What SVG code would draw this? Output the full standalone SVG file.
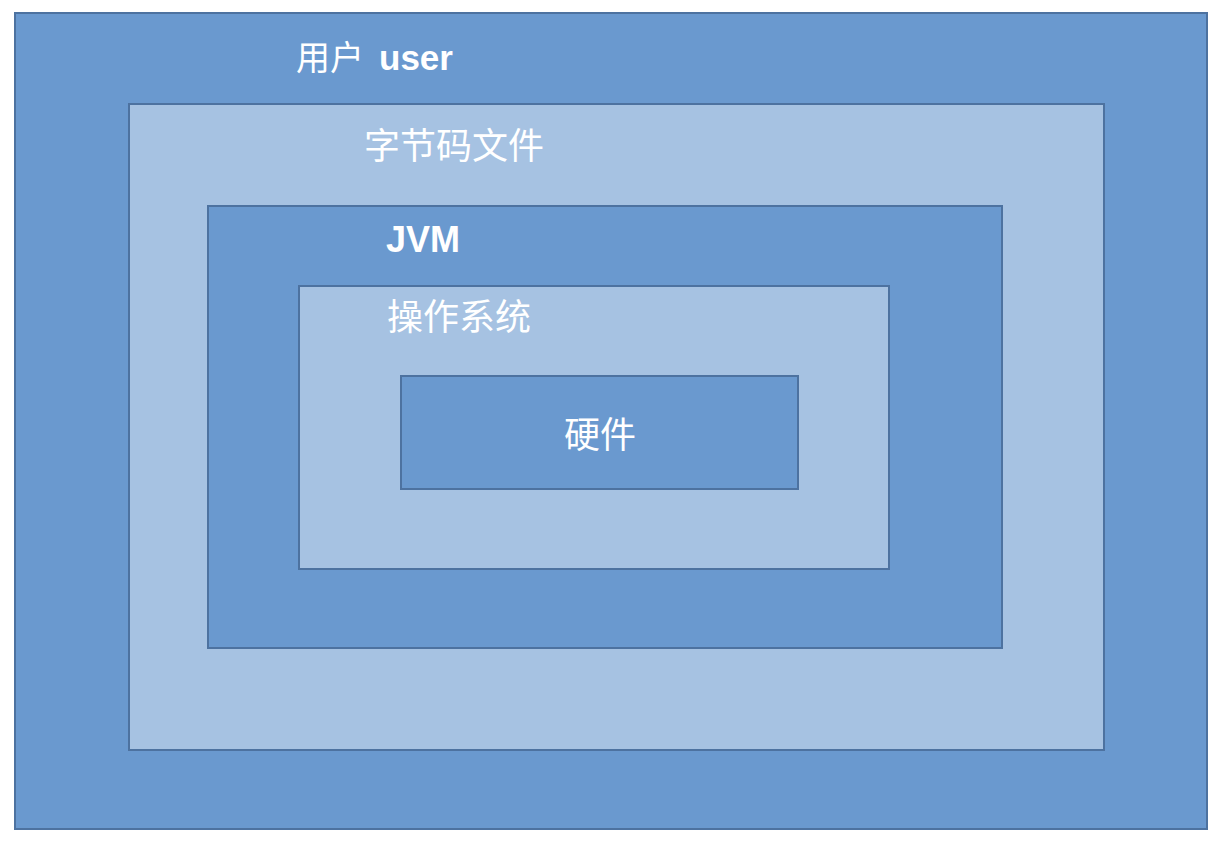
<svg xmlns="http://www.w3.org/2000/svg" width="1222" height="852" viewBox="0 0 1222 852">
<style>
.dark{fill:#6A99CF;stroke:#4D72A0;stroke-width:2}
.light{fill:#A6C2E2;stroke:#4D72A0;stroke-width:2}
.t{fill:#FFFFFF;font-family:"Liberation Sans","Noto Sans CJK SC",sans-serif}
.b{font-weight:bold}
</style>
<rect width="1222" height="852" fill="#FFFFFF"/>
<g id="user">
<rect class="dark" x="15" y="13" width="1192" height="816"/>
<text class="t" y="70"><tspan x="296" font-size="34">用户</tspan><tspan class="b" x="379" font-size="35">user</tspan></text>
</g>
<g id="bytecode">
<rect class="light" x="129" y="104" width="975" height="646"/>
<text class="t" x="364" y="159" font-size="36">字节码文件</text>
</g>
<g id="jvm">
<rect class="dark" x="208" y="206" width="794" height="442"/>
<text class="t b" x="386" y="252" font-size="36">JVM</text>
</g>
<g id="os">
<rect class="light" x="299" y="286" width="590" height="283"/>
<text class="t" x="387" y="330" font-size="36">操作系统</text>
</g>
<g id="hardware">
<rect class="dark" x="401" y="376" width="397" height="113"/>
<text class="t" x="600" y="448" font-size="36" text-anchor="middle">硬件</text>
</g>
<g id="connectors"/>
</svg>
